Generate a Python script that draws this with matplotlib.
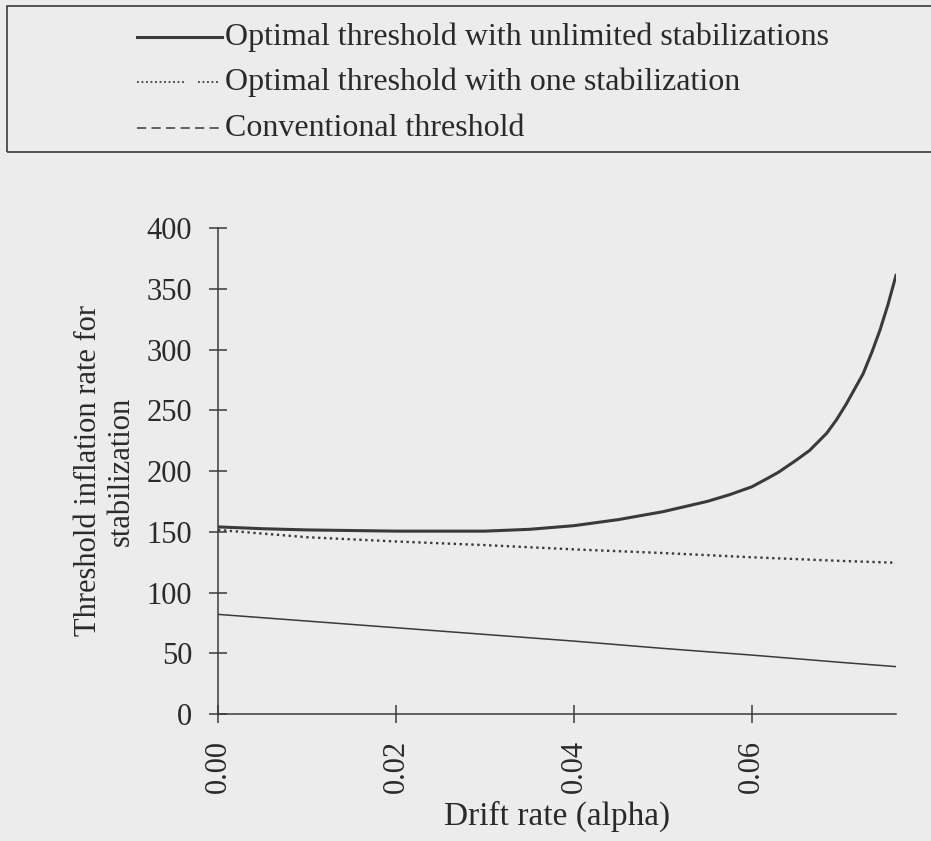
import numpy as np
import matplotlib
matplotlib.use('Agg')
from matplotlib import pyplot as plt
from matplotlib.lines import Line2D
from matplotlib.patches import Rectangle

# values
alpha_unl = [0.0, 0.005, 0.01, 0.02, 0.03, 0.035, 0.04, 0.045, 0.05, 0.055,
             0.0575, 0.06, 0.0617, 0.063, 0.065, 0.0665, 0.0684, 0.0695,
             0.0706, 0.0725, 0.0735, 0.0744, 0.0753, 0.0762]
thr_unl = [154, 152.5, 151.5, 150.5, 150.5, 152, 155, 160, 166.5, 175,
           180.5, 187, 193.7, 199, 209, 217, 231, 242,
           255, 280, 298, 316, 337, 361]

alpha_lin = [0.0, 0.01, 0.02, 0.03, 0.04, 0.05, 0.06, 0.07, 0.0762]
thr_one = [151.5, 145.5, 142, 139, 135.5, 132.5, 129, 126, 124.5]
thr_conv = [82, 76.5, 71, 65.5, 60, 54, 48.5, 42.5, 39]

x_ticks = [0.0, 0.02, 0.04, 0.06]
y_ticks = [0, 50, 100, 150, 200, 250, 300, 350, 400]

legend_labels = ['Optimal threshold with unlimited stabilizations',
                 'Optimal threshold with one stabilization',
                 'Conventional threshold']

bg = '#ececec'
ink = '#3a3a3a'
txt = '#2a2a2a'
plt.rcParams['font.family'] = ['Liberation Serif', 'DejaVu Serif']

W, H = 931, 841
fig = plt.figure(figsize=(W / 100, H / 100), dpi=100, facecolor=bg)
ax = fig.add_axes([218 / W, 1 - 714 / H, (896 - 218) / W, (714 - 228) / H])
ax.set_facecolor(bg)

ax.plot(alpha_unl, thr_unl, color=ink, lw=2.2, solid_joinstyle='round')
ax.plot(alpha_lin, thr_one, color=ink, lw=1.7, linestyle=(0, (1, 1.5)))
ax.plot(alpha_lin, thr_conv, color=ink, lw=1.1)

ax.set_xlim(0, 0.0762)
ax.set_ylim(0, 400)
ax.set_xticks(x_ticks)
ax.set_xticklabels(['{:.2f}'.format(v) for v in x_ticks], rotation=90)
ax.set_yticks(y_ticks)
for s in ['top', 'right']:
    ax.spines[s].set_visible(False)
for s in ['left', 'bottom']:
    ax.spines[s].set_color(ink)
    ax.spines[s].set_linewidth(1.1)
ax.tick_params(direction='inout', length=13, width=1.1, color=ink,
               labelsize=22, labelcolor=txt, pad=12)
ax.set_xlabel('Drift rate (alpha)', fontsize=24, color=txt, labelpad=6)
ax.set_ylabel('Threshold inflation rate for\nstabilization', fontsize=22,
              color=txt, labelpad=8, linespacing=1.15)

# legend box drawn by hand, cut off at the right edge
fig.patches.append(Rectangle((7 / W, 1 - 152 / H), 1.0, (152 - 6) / H,
                             transform=fig.transFigure, fill=False,
                             edgecolor=ink, lw=1.2))
rows_y = [37, 82, 128]
for i, (label, y) in enumerate(zip(legend_labels, rows_y)):
    yf = 1 - y / H
    if i == 0:
        fig.lines.append(Line2D([137 / W, 222 / W], [yf, yf], color=ink,
                                lw=2.2, transform=fig.transFigure))
    elif i == 1:
        fig.lines.append(Line2D([137 / W, 184 / W], [yf, yf], color=ink,
                                lw=1.3, linestyle=(0, (1, 1.5)),
                                transform=fig.transFigure))
        fig.lines.append(Line2D([198 / W, 220 / W], [yf, yf], color=ink,
                                lw=1.3, linestyle=(0, (1, 1.5)),
                                transform=fig.transFigure))
    else:
        fig.lines.append(Line2D([137 / W, 222 / W], [yf, yf], color=ink,
                                lw=1.1, linestyle=(0, (6, 3.5)),
                                transform=fig.transFigure))
    fig.text(225 / W, yf, label, fontsize=23, color=txt,
             ha='left', va='center')

fig.savefig('out.png', dpi=100, facecolor=bg)
